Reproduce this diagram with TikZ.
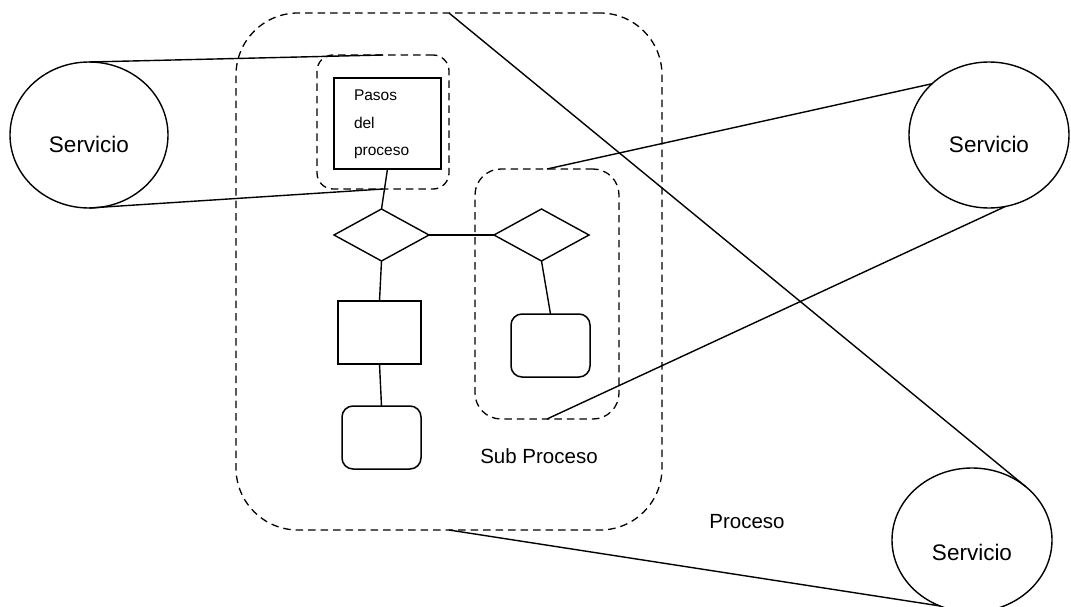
\documentclass[tikz,border=0pt]{standalone}
\usepackage{fontspec}
\setmainfont{Liberation Sans}
\usetikzlibrary{shapes.geometric}
\begin{document}
\begin{tikzpicture}[x=1pt,y=-1pt,
  every node/.style={inner sep=0pt, outer sep=0pt},
  grp/.style={draw, rectangle, dash pattern=on 7.5pt off 5pt, line width=1.3pt},
  svc/.style={draw, ellipse, line width=1.4pt},
  box/.style={draw, rectangle, line width=1.5pt},
  rbox/.style={box, rounded corners=11pt},
  dec/.style={draw, diamond, line width=1.4pt, aspect=1.83,
              minimum width=95pt, minimum height=52pt},
  link/.style={line width=1.4pt},
  big/.style={font=\fontsize{22.5}{27}\selectfont},
  mid/.style={font=\fontsize{20.5}{25}\selectfont}
]
\useasboundingbox (0,0) rectangle (1071,607);

% process and sub-process groupings
\node[grp, minimum width=426pt, minimum height=517pt, rounded corners=62pt] (proc) at (449,271.5) {};
\node[grp, minimum width=132pt, minimum height=134pt, rounded corners=16pt] (pgrp) at (383,122) {};
\node[grp, minimum width=144pt, minimum height=250pt, rounded corners=26pt] (sgrp) at (547,294) {};

% process steps
\node[box, minimum width=107pt, minimum height=91pt] (pasos) at (387.5,123.5) {};
\node[anchor=west, align=left, font=\fontsize{15.5}{27.5}\selectfont] (pasost) at (354,124.5) {Pasos\\del\\proceso};
\node[dec] (d1) at (381.5,235) {};
\node[dec] (d2) at (541.5,235) {};
\node[box, minimum width=83pt, minimum height=63pt] (r1) at (379.5,332.5) {};
\node[rbox, minimum width=79pt, minimum height=63pt] (r2) at (381.5,437.5) {};
\node[rbox, minimum width=79pt, minimum height=63pt] (r3) at (550.5,345.5) {};

% services
\node[svc, minimum width=158pt, minimum height=146pt] (s1) at (89,135) {};
\node[svc, minimum width=160pt, minimum height=146pt] (s2) at (989,135) {};
\node[svc, minimum width=160pt, minimum height=144pt] (s3) at (972,540) {};
\node[big] (s1t) at ([yshift=-9pt]s1.center) {Servicio};
\node[big] (s2t) at ([yshift=-9pt]s2.center) {Servicio};
\node[big] (s3t) at ([yshift=-12pt]s3.center) {Servicio};

% labels
\node[mid] (subt) at (539,456) {Sub Proceso};
\node[mid] (proct) at (747,522) {Proceso};

% service links
\draw[link] (s1.north) -- (pgrp.north);
\draw[link] (s1.south) -- (pgrp.south);
\draw[link] (proc.north) -- (s3.45);
\draw[link] (proc.south) -- (s3.244);
\draw[link] (sgrp.north) -- (s2.138);
\draw[link] (sgrp.south) -- (s2.283);

% flow
\draw[link] (pasos.south) -- (d1.north);
\draw[link] (d1.east) -- (d2.west);
\draw[link] (d1.south) -- (r1.north);
\draw[link] (r1.south) -- (r2.north);
\draw[link] (d2.south) -- (r3.north);
\end{tikzpicture}
\end{document}
